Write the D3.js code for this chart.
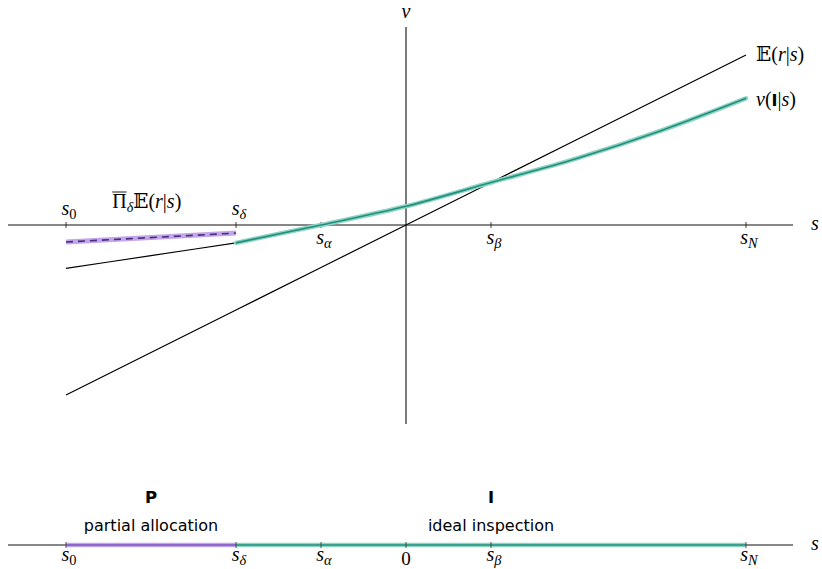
<!DOCTYPE html>
<html>
<head>
<meta charset="utf-8">
<script src="https://cdn.jsdelivr.net/npm/d3@7"></script>
<style>
  html, body { margin: 0; padding: 0; background: #fff; }
  svg { display: block; }
  .math { font-family: "Liberation Serif", "DejaVu Serif", serif; font-style: italic; }
  .up { font-style: normal; }
  .sans { font-family: "DejaVu Sans", "Noto Sans", sans-serif; }
</style>
</head>
<body>
<svg id="chart" width="822" height="569"></svg>
<script>
// Signal grid (s) and the two value curves
const sGrid = [-4, -3, -2, -1, 0, 1, 2, 3, 4];
const expectedR = [-2, -1.5, -1, -0.5, 0, 0.5, 1, 1.5, 2];          // E(r|s)
const valueI = [-0.51, -0.36, -0.21, 0, 0.22, 0.5, 0.78, 1.11, 1.49]; // v(I|s)
// Projected expectation on the partial-allocation region
const projS = [-4, -2];
const projV = [-0.2, -0.095];
// Named points on the signal axis
const tickKeys = ["0", "δ", "α", "β", "N"];
const tickS = [-4, -2, -1, 1, 4];
// Regions on the lower strip
const regionStart = [-4, -2];
const regionEnd = [-2, 4];
const regionMid = [-3, 1];
const regionCode = ["P", "I"];
const regionName = ["partial allocation", "ideal inspection"];

const svg = d3.select("#chart");
const x = d3.scaleLinear().domain([-4, 4]).range([66, 746]);
const y = d3.scaleLinear().domain([-2, 2]).range([395, 55]);
const y0 = y(0);
const yStrip = 545;
const FS = 20;

const teal = "#1f8f7e", tealHalo = "#8fd3c2";
const purple = "#4a2d7a", purpleHalo = "#c2a5ea";

// ---- upper panel axes
svg.append("line").attr("x1", 8).attr("x2", 793).attr("y1", y0).attr("y2", y0)
  .attr("stroke", "#111").attr("stroke-width", 1.1);
svg.append("line").attr("x1", x(0)).attr("x2", x(0)).attr("y1", 27).attr("y2", 424)
  .attr("stroke", "#333").attr("stroke-width", 1.3);
svg.append("text").attr("class", "math").attr("x", 815).attr("y", y0 + 5)
  .attr("text-anchor", "middle").attr("font-size", FS).text("s");
svg.append("text").attr("class", "math").attr("x", x(0)).attr("y", 18)
  .attr("text-anchor", "middle").attr("font-size", FS).text("v");

svg.selectAll("line.tk").data(tickS).join("line").attr("class", "tk")
  .attr("x1", d => x(d)).attr("x2", d => x(d)).attr("y1", y0 - 3).attr("y2", y0 + 3)
  .attr("stroke", "#111").attr("stroke-width", 0.8);

function sLabel(sel, key, px, py, size) {
  const t = sel.append("text").attr("class", "math").attr("x", px).attr("y", py)
    .attr("text-anchor", "middle").attr("font-size", size);
  t.append("tspan").text("s");
  t.append("tspan").attr("font-size", size * 0.72).attr("dy", 4)
    .attr("class", key === "0" ? "up" : null).text(key);
  return t;
}
tickKeys.forEach((k, i) => {
  const above = tickS[i] <= -2;
  sLabel(svg, k, x(tickS[i]) + 3, above ? y0 - 10 : y0 + 19, FS);
});

// ---- curves
const line = d3.line().x(d => x(d[0])).y(d => y(d[1]));
const lineSmooth = d3.line().x(d => x(d[0])).y(d => y(d[1])).curve(d3.curveMonotoneX);

svg.append("path").datum(sGrid.map((s, i) => [s, expectedR[i]]))
  .attr("d", line).attr("fill", "none").attr("stroke", "#000").attr("stroke-width", 1.2);

const vPts = sGrid.map((s, i) => [s, valueI[i]]);
// left part of v(I|s) in plain black
svg.append("path").datum(vPts.filter(d => d[0] <= -2))
  .attr("d", lineSmooth).attr("fill", "none").attr("stroke", "#000").attr("stroke-width", 1.2);
// ideal-inspection part highlighted
const vRight = vPts.filter(d => d[0] >= -2);
svg.append("path").datum(vRight).attr("d", lineSmooth).attr("fill", "none")
  .attr("stroke", tealHalo).attr("stroke-width", 4.5).attr("stroke-linecap", "round");
svg.append("path").datum(vRight).attr("d", lineSmooth).attr("fill", "none")
  .attr("stroke", teal).attr("stroke-width", 1.6);

// projected expectation, dashed over a light band
const projPts = projS.map((s, i) => [s, projV[i]]);
svg.append("path").datum(projPts).attr("d", line).attr("fill", "none")
  .attr("stroke", purpleHalo).attr("stroke-width", 5);
svg.append("path").datum(projPts).attr("d", line).attr("fill", "none")
  .attr("stroke", purple).attr("stroke-width", 1.6).attr("stroke-dasharray", "7,5");

// curve labels
function condLabel(t, first, firstItalic) {
  if (firstItalic) t.append("tspan").text(first); else t.append("tspan").attr("class", "up").text(first);
}
const eLab = svg.append("text").attr("class", "math").attr("x", 756).attr("y", y(2) + 6).attr("font-size", FS);
eLab.append("tspan").attr("class", "up").text("𝔼(");
eLab.append("tspan").text("r");
eLab.append("tspan").attr("class", "up").text("|");
eLab.append("tspan").text("s");
eLab.append("tspan").attr("class", "up").text(")");

const vLab = svg.append("text").attr("class", "math").attr("x", 756).attr("y", y(valueI[8]) + 8).attr("font-size", FS);
vLab.append("tspan").text("v");
vLab.append("tspan").attr("class", "up").text("(");
vLab.append("tspan").attr("class", "sans up").attr("font-weight", "bold").attr("font-size", 16).text("I");
vLab.append("tspan").attr("class", "up").text("|");
vLab.append("tspan").text("s");
vLab.append("tspan").attr("class", "up").text(")");

const pLab = svg.append("text").attr("class", "math").attr("x", x(-3.05)).attr("y", y0 - 17)
  .attr("text-anchor", "middle").attr("font-size", FS);
pLab.append("tspan").attr("class", "up").text("Π");
pLab.append("tspan").attr("font-size", 14).attr("dy", 4).text("δ");
pLab.append("tspan").attr("class", "up").attr("dy", -4).text("𝔼(");
pLab.append("tspan").text("r");
pLab.append("tspan").attr("class", "up").text("|");
pLab.append("tspan").text("s");
pLab.append("tspan").attr("class", "up").text(")");
const piBox = pLab.node().getExtentOfChar(0);
svg.append("line").attr("x1", piBox.x).attr("x2", piBox.x + piBox.width)
  .attr("y1", piBox.y + 2).attr("y2", piBox.y + 2).attr("stroke", "#000").attr("stroke-width", 0.9);

// ---- lower strip
svg.append("line").attr("x1", 8).attr("x2", 793).attr("y1", yStrip).attr("y2", yStrip)
  .attr("stroke", "#111").attr("stroke-width", 1.1);
svg.append("text").attr("class", "math").attr("x", 815).attr("y", yStrip + 5)
  .attr("text-anchor", "middle").attr("font-size", FS).text("s");

const regionColor = [[purpleHalo, "#7a55c0"], [tealHalo, teal]];
regionStart.forEach((s0, i) => {
  svg.append("line").attr("x1", x(s0)).attr("x2", x(regionEnd[i])).attr("y1", yStrip).attr("y2", yStrip)
    .attr("stroke", regionColor[i][0]).attr("stroke-width", 4.5);
  svg.append("line").attr("x1", x(s0)).attr("x2", x(regionEnd[i])).attr("y1", yStrip).attr("y2", yStrip)
    .attr("stroke", regionColor[i][1]).attr("stroke-width", 1.6);
  svg.append("text").attr("class", "sans").attr("x", x(regionMid[i])).attr("y", 503)
    .attr("text-anchor", "middle").attr("font-size", 16.5).attr("font-weight", "bold").text(regionCode[i]);
  svg.append("text").attr("class", "sans").attr("x", x(regionMid[i])).attr("y", 531)
    .attr("text-anchor", "middle").attr("font-size", 16).text(regionName[i]);
});

const stripTicks = tickS.concat([0]);
svg.selectAll("line.tk2").data(stripTicks).join("line").attr("class", "tk2")
  .attr("x1", d => x(d)).attr("x2", d => x(d)).attr("y1", yStrip - 3).attr("y2", yStrip + 3)
  .attr("stroke", "#333").attr("stroke-width", 0.8);
tickKeys.forEach((k, i) => sLabel(svg, k, x(tickS[i]) + 3, yStrip + 16, FS));
svg.append("text").attr("class", "math up").attr("x", x(0)).attr("y", yStrip + 20)
  .attr("text-anchor", "middle").attr("font-size", FS - 1).text("0");
</script>
</body>
</html>
